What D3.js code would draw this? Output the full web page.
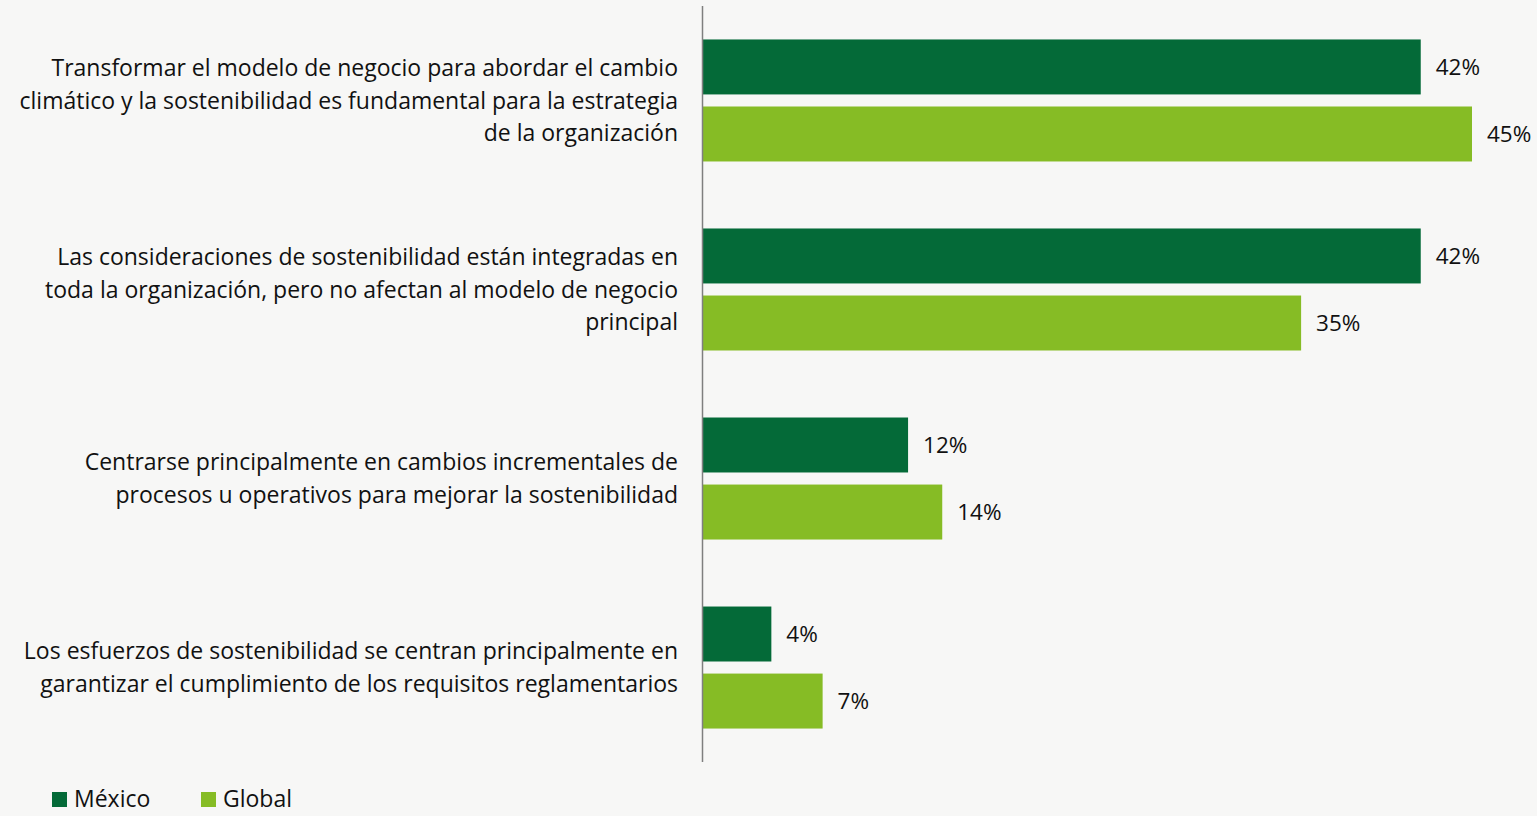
<!DOCTYPE html>
<html>
<head>
<meta charset="utf-8">
<script src="https://cdn.jsdelivr.net/npm/d3@7"></script>
<style>
  html, body { margin: 0; padding: 0; background: #f7f7f6; overflow: hidden; }
  svg { display: block; }
  text { font-family: "Open Sans", sans-serif; fill: #111; }
</style>
</head>
<body>
<svg id="chart" width="1537" height="816"></svg>
<script>
"use strict";

// Chart data
const categories = [
	["Transformar el modelo de negocio para abordar el cambio", "climático y la sostenibilidad es fundamental para la estrategia", "de la organización"],
	["Las consideraciones de sostenibilidad están integradas en", "toda la organización, pero no afectan al modelo de negocio", "principal"],
	["Centrarse principalmente en cambios incrementales de", "procesos u operativos para mejorar la sostenibilidad"],
	["Los esfuerzos de sostenibilidad se centran principalmente en", "garantizar el cumplimiento de los requisitos reglamentarios"]
];
const series = ["México", "Global"];
const mexico = [42, 42, 12, 4];
const global = [45, 35, 14, 7];
const colors = ["#046A38", "#86BC25"];

const svg = d3.select("#chart");
const fontSize = 23;

// Layout
const x0 = 703;
const x = d3.scaleLinear().domain([0, 45]).range([x0, x0 + 769]);
const yGroup = d3.scaleBand()
	.domain(d3.range(categories.length))
	.range([6, 762])
	.paddingInner(0.3545)
	.paddingOuter(0.177);
const ySub = d3.scaleBand()
	.domain(series)
	.range([0, yGroup.bandwidth()])
	.paddingInner(0.18);

const rows = categories.map((lines, i) => ({
	i, lines,
	values: [{s: series[0], v: mexico[i]}, {s: series[1], v: global[i]}]
}));

// Bars
const g = svg.selectAll("g.group")
	.data(rows)
	.enter()
	.append("g")
	.attr("class", "group")
	.attr("transform", d => `translate(0,${yGroup(d.i)})`);

g.selectAll("rect")
	.data(d => d.values)
	.enter()
	.append("rect")
	.attr("x", x0)
	.attr("y", d => ySub(d.s))
	.attr("width", d => x(d.v) - x0)
	.attr("height", ySub.bandwidth())
	.style("fill", (d, j) => colors[j]);

// Value labels
g.selectAll("text.val")
	.data(d => d.values)
	.enter()
	.append("text")
	.attr("class", "val")
	.attr("x", d => x(d.v) + 15)
	.attr("y", d => ySub(d.s) + ySub.bandwidth() / 2)
	.attr("dy", "0.35em")
	.style("font-size", (fontSize - 0.5) + "px")
	.text(d => d.v + "%");

// Category labels
const lineH = 32.5;
g.append("text")
	.attr("class", "cat")
	.attr("text-anchor", "end")
	.style("font-size", fontSize + "px")
	.selectAll("tspan")
	.data(d => d.lines.map((t, k) => ({t, k, n: d.lines.length})))
	.enter()
	.append("tspan")
	.attr("x", 678)
	.attr("y", d => yGroup.bandwidth() / 2 + (d.k - (d.n - 1) / 2) * lineH)
	.attr("dy", "0.35em")
	.text(d => d.t);

// Axis line
svg.append("line")
	.attr("x1", x0 - 0.5).attr("x2", x0 - 0.5)
	.attr("y1", 6).attr("y2", 762)
	.style("stroke", "#7f7f7f")
	.style("stroke-width", 1.5);

// Legend
const legendX = [52, 201];
const leg = svg.selectAll("g.legend")
	.data(series)
	.enter()
	.append("g")
	.attr("class", "legend")
	.attr("transform", (d, i) => `translate(${legendX[i]},792)`);
leg.append("rect")
	.attr("width", 15).attr("height", 15)
	.style("fill", (d, i) => colors[i]);
leg.append("text")
	.attr("x", 22).attr("y", 15)
	.style("font-size", fontSize + "px")
	.text(d => d);
</script>
</body>
</html>
